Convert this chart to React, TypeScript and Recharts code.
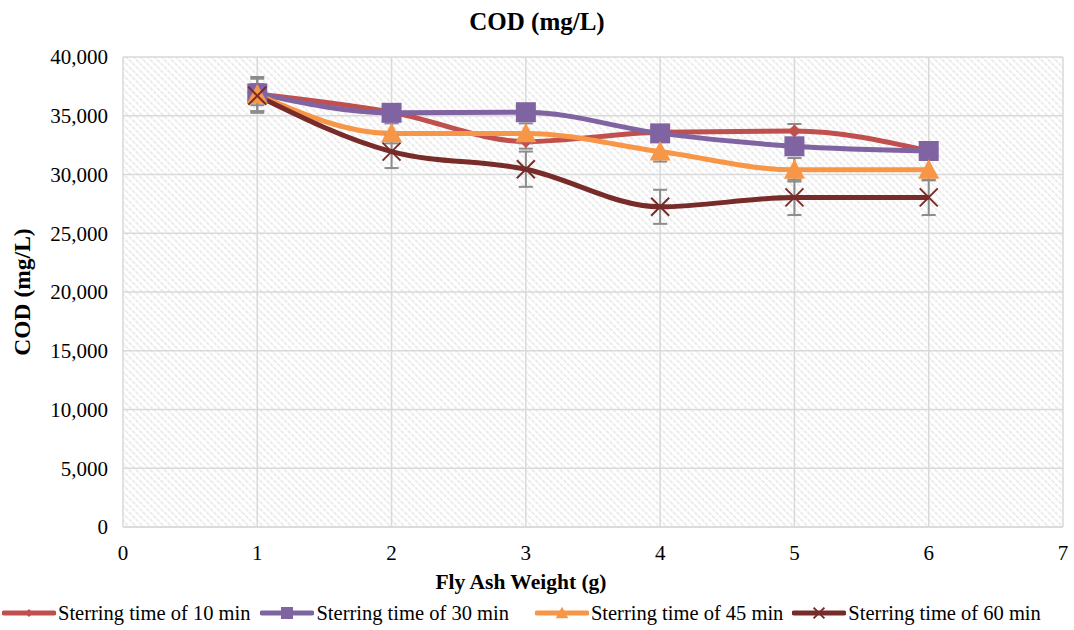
import React from "react";
import {
  LineChart,
  Line,
  XAxis,
  YAxis,
  CartesianGrid,
  ErrorBar,
} from "recharts";

// fly ash weight (g)
const weights = [1, 2, 3, 4, 5, 6];

// COD (mg/L) per stirring time
const cod10 = [36850, 35300, 32800, 33600, 33700, 32000];
const cod30 = [36900, 35250, 35300, 33500, 32400, 32000];
const cod45 = [36800, 33500, 33500, 31950, 30400, 30400];
const cod60 = [36700, 31950, 30450, 27250, 28050, 28050];

// error bars
const err10 = [1450, 600, 600, 600, 600, 600];
const err45 = [900, 850, 850, 850, 1000, 900];
const err60 = [1450, 1400, 1500, 1450, 1500, 1500];

const xTicks = [0, 1, 2, 3, 4, 5, 6, 7];
const yTicks = [0, 5000, 10000, 15000, 20000, 25000, 30000, 35000, 40000];

const seriesNames = [
  "Sterring time of 10 min",
  "Sterring time of 30 min",
  "Sterring time of 45 min",
  "Sterring time of 60 min",
];

const data = weights.map((w, i) => ({
  w,
  c10: cod10[i],
  c30: cod30[i],
  c45: cod45[i],
  c60: cod60[i],
  e10: err10[i],
  e45: err45[i],
  e60: err60[i],
}));

const FONT = '"Liberation Serif", "Times New Roman", serif';
const COLORS = ["#C0504D", "#8064A2", "#F79646", "#772C2A"];
const SHAPES = ["diamond", "square", "triangle", "x"];
const LEGEND_GAP = [10, 26, 9, 0];

function Marker({ cx, cy, shape, color, s = 1 }: any) {
  if (cx == null || cy == null) return null;
  if (shape === "diamond") {
    const r = 6.5 * s;
    return (
      <polygon
        points={`${cx},${cy - r} ${cx + r},${cy} ${cx},${cy + r} ${cx - r},${cy}`}
        fill={color}
      />
    );
  }
  if (shape === "square") {
    const r = 10 * s;
    return <rect x={cx - r} y={cy - r} width={r * 2} height={r * 2} fill={color} />;
  }
  if (shape === "triangle") {
    const r = 10.5 * s;
    return (
      <polygon
        points={`${cx},${cy - r} ${cx + r},${cy + r * 0.85} ${cx - r},${cy + r * 0.85}`}
        fill={color}
      />
    );
  }
  const r = 9 * s;
  return (
    <g stroke={color} strokeWidth={2}>
      <line x1={cx - r} y1={cy - r} x2={cx + r} y2={cy + r} />
      <line x1={cx - r} y1={cy + r} x2={cx + r} y2={cy - r} />
    </g>
  );
}

const fmt = (v: number) => v.toLocaleString("en-US");

export default function App() {
  const keys = ["c10", "c30", "c45", "c60"];
  const errKeys = ["e10", null, "e45", "e60"];

  return (
    <div
      style={{
        position: "absolute",
        left: 0,
        top: 0,
        width: 1074,
        height: 630,
        background: "#fff",
        fontFamily: FONT,
      }}
    >
      <svg width={0} height={0} style={{ position: "absolute" }}>
        <defs>
          <pattern
            id="hatch"
            width="5"
            height="5"
            patternUnits="userSpaceOnUse"
            patternTransform="rotate(45)"
          >
            <rect width="5" height="5" fill="#ffffff" />
            <line x1="0" y1="1" x2="5" y2="1" stroke="#dadada" strokeWidth="1.2" strokeDasharray="2 1" />
          </pattern>
        </defs>
      </svg>

      <div
        style={{
          position: "absolute",
          top: 6,
          left: 0,
          width: 1074,
          textAlign: "center",
          fontWeight: "bold",
          fontSize: 25,
          lineHeight: "32px",
        }}
      >
        COD (mg/L)
      </div>

      <LineChart
        width={1074}
        height={630}
        data={data}
        margin={{ top: 57, right: 11, left: 0, bottom: 43 }}
      >
        <CartesianGrid
          fill="url(#hatch)"
          stroke="#d9d9d9"
          strokeWidth={1.5}
          verticalValues={xTicks}
          horizontalValues={yTicks}
        />
        <XAxis
          dataKey="w"
          type="number"
          domain={[0, 7]}
          ticks={xTicks}
          height={60}
          tickLine={false}
          axisLine={{ stroke: "#d9d9d9", strokeWidth: 1.5 }}
          tickMargin={12}
          tick={{ fill: "#000", fontSize: 21, fontFamily: FONT }}
          label={{
            content: () => (
              <text
                x={521}
                y={589}
                textAnchor="middle"
                fontWeight="bold"
                fontSize={21.5}
                fontFamily={FONT}
                fill="#000"
              >
                Fly Ash Weight (g)
              </text>
            ),
          }}
        />
        <YAxis
          type="number"
          domain={[0, 40000]}
          ticks={yTicks}
          width={123}
          tickLine={false}
          axisLine={false}
          tickMargin={9}
          tickFormatter={fmt}
          tick={{ fill: "#000", fontSize: 21, fontFamily: FONT }}
          label={{
            content: () => (
              <text
                x={30}
                y={292}
                transform="rotate(-90 30 292)"
                textAnchor="middle"
                fontWeight="bold"
                fontSize={23.5}
                fontFamily={FONT}
                fill="#000"
              >
                COD (mg/L)
              </text>
            ),
          }}
        />
        {keys.map((k, i) => (
          <Line
            key={k}
            dataKey={k}
            name={seriesNames[i]}
            type="monotone"
            stroke={COLORS[i]}
            strokeWidth={5}
            isAnimationActive={false}
            dot={(p: any) => (
              <Marker key={`${k}-${p.index}`} cx={p.cx} cy={p.cy} shape={SHAPES[i]} color={COLORS[i]} />
            )}
            activeDot={false}
          >
            {errKeys[i] && (
              <ErrorBar
                dataKey={errKeys[i] as string}
                width={7}
                stroke="#8c8c8c"
                strokeWidth={2}
                direction="y"
              />
            )}
          </Line>
        ))}
      </LineChart>

      {/* legend */}
      <div
        style={{
          position: "absolute",
          top: 600,
          left: 2,
          display: "flex",
          alignItems: "center",
          fontSize: 20.5,
          lineHeight: "26px",
          whiteSpace: "nowrap",
        }}
      >
        {seriesNames.map((n, i) => (
          <div key={n} style={{ display: "flex", alignItems: "center", marginRight: LEGEND_GAP[i] }}>
            <svg width={54} height={20}>
              <line x1={2} y1={10} x2={52} y2={10} stroke={COLORS[i]} strokeWidth={5} strokeLinecap="round" />
              <Marker cx={27} cy={10} shape={SHAPES[i]} color={COLORS[i]} s={0.6} />
            </svg>
            <span style={{ marginLeft: 2 }}>{n}</span>
          </div>
        ))}
      </div>
    </div>
  );
}
